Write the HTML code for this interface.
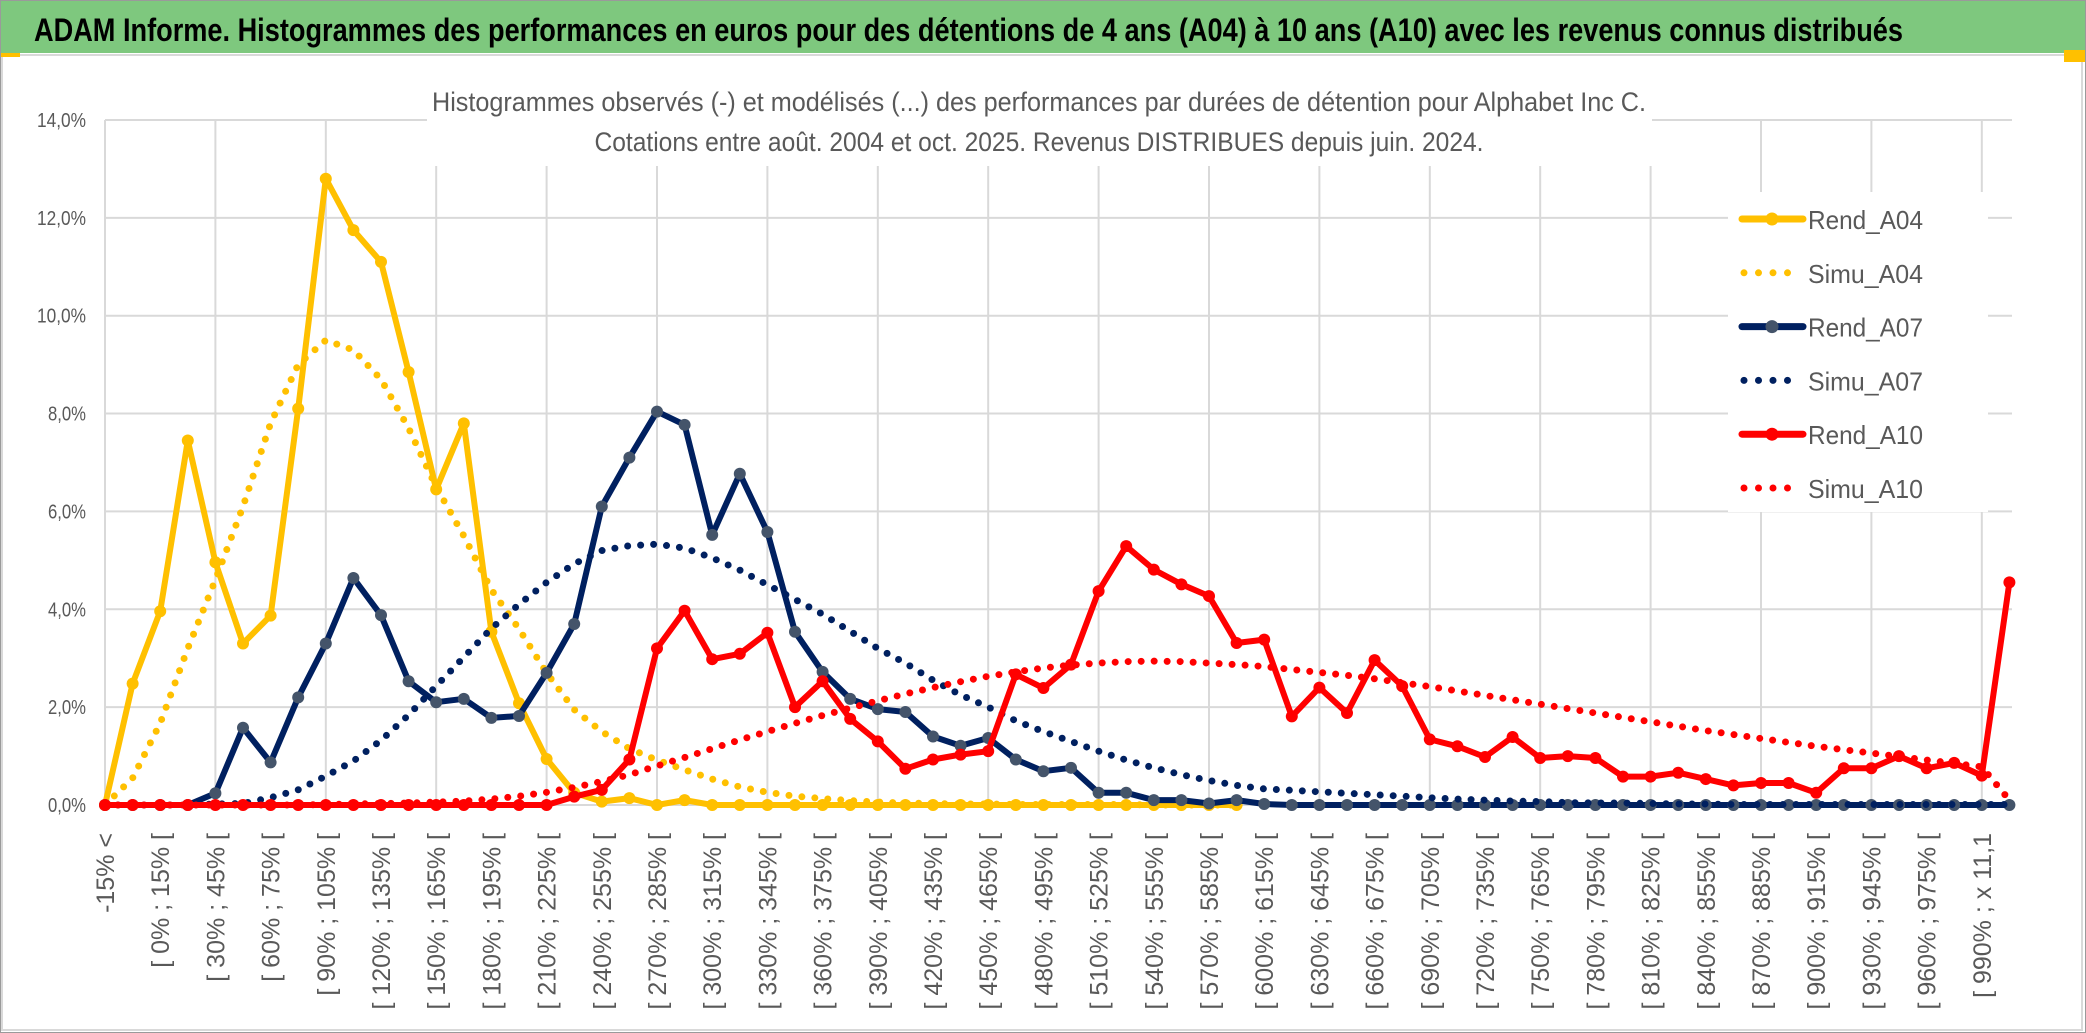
<!DOCTYPE html>
<html><head><meta charset="utf-8"><style>
html,body{margin:0;padding:0;background:#fff;}
svg{display:block;}
text{font-family:"Liberation Sans Narrow","Liberation Sans",sans-serif;}
</style></head><body>
<svg id="chart" xmlns="http://www.w3.org/2000/svg" width="2086" height="1033" viewBox="0 0 2086 1033">
<rect x="0" y="0" width="2086" height="1033" fill="#fff"/>
<rect x="0.5" y="0.5" width="2085" height="1032" fill="none" stroke="#9a9a9a"/>
<rect x="1" y="1" width="2084" height="52" fill="#7EC87E"/>
<text x="34" y="41" font-size="32" font-weight="bold" fill="#000" textLength="1869" lengthAdjust="spacingAndGlyphs">ADAM Informe. Histogrammes des performances en euros pour des détentions de 4 ans (A04) à 10 ans (A10) avec les revenus connus distribués</text>
<rect x="2" y="55" width="2080" height="975" fill="none" stroke="#d9d9d9" stroke-width="2"/>
<rect x="1" y="53" width="19" height="4" fill="#FFC000"/>
<rect x="2064" y="50" width="21" height="12" fill="#FFC000"/>
<g id="grid"></g>
<rect x="427" y="80" width="1225" height="86" fill="#fff"/>
<text x="1039" y="111" font-size="27" fill="#595959" text-anchor="middle" textLength="1214" lengthAdjust="spacingAndGlyphs">Histogrammes observés (-) et modélisés (...) des performances par durées de détention pour Alphabet Inc C.</text>
<text x="1039" y="151" font-size="27" fill="#595959" text-anchor="middle" textLength="889" lengthAdjust="spacingAndGlyphs">Cotations entre août. 2004 et oct. 2025. Revenus DISTRIBUES depuis juin. 2024.</text>
<g id="ylabels"></g>
<g id="xlabels"></g>
<g id="series"></g>
<g id="legend"></g>
</svg>
<script>
const yTicks = [0, 2, 4, 6, 8, 10, 12, 14];
const rendA04 = [0,2.48,3.96,7.45,4.96,3.3,3.87,8.1,12.8,11.75,11.1,8.85,6.45,7.8,3.54,2.08,0.94,0.25,0.07,0.14,0,0.1,0,0,0,0,0,0,0,0,0,0,0,0,0,0,0,0,0,0,0,0];
const simuA04 = [0,0.55,1.67,3.2,4.6,6.1,7.8,9.0,9.5,9.3,8.7,7.7,6.5,5.5,4.4,3.6,2.7,1.95,1.5,1.15,0.92,0.72,0.53,0.37,0.26,0.18,0.13,0.09,0.06,0.04,0.03,0.02,0.02,0.01,0.01,0.01,0.01,0.01,0,0,0,0];
const rendA07 = [0,0,0,0,0.24,1.58,0.87,2.2,3.3,4.64,3.88,2.53,2.1,2.17,1.78,1.82,2.7,3.7,6.1,7.1,8.04,7.77,5.52,6.77,5.58,3.54,2.72,2.17,1.96,1.9,1.4,1.21,1.37,0.93,0.69,0.76,0.25,0.25,0.1,0.1,0.03,0.1,0.02,0,0,0,0,0,0,0,0,0,0,0,0,0,0,0,0,0,0,0,0,0,0,0,0,0,0,0];
const simuA07 = [0,0,0,0,0.02,0.03,0.15,0.31,0.59,0.9,1.32,1.84,2.43,3.02,3.61,4.1,4.55,4.93,5.2,5.3,5.33,5.25,5.05,4.8,4.5,4.2,3.9,3.55,3.2,2.9,2.55,2.25,2.0,1.72,1.5,1.3,1.1,0.92,0.76,0.62,0.5,0.4,0.33,0.3,0.27,0.24,0.21,0.18,0.15,0.12,0.1,0.08,0.07,0.05,0.04,0.04,0.03,0.02,0.02,0.01,0.01,0.01,0.01,0.01,0.01,0.01,0.01,0.01,0.01,0.01];
const rendA10 = [0,0,0,0,0,0,0,0,0,0,0,0,0,0,0,0,0,0.17,0.31,0.93,3.2,3.97,2.98,3.09,3.52,2.0,2.53,1.76,1.3,0.74,0.93,1.03,1.1,2.67,2.39,2.87,4.37,5.29,4.81,4.51,4.27,3.31,3.38,1.81,2.4,1.88,2.96,2.43,1.34,1.2,0.98,1.39,0.96,1.0,0.96,0.58,0.58,0.66,0.53,0.4,0.45,0.45,0.25,0.75,0.75,1.0,0.75,0.86,0.6,4.55];
const simuA10 = [0,0,0,0,0,0,0,0,0.01,0.02,0.03,0.04,0.06,0.08,0.12,0.18,0.26,0.36,0.48,0.62,0.8,0.97,1.15,1.33,1.5,1.67,1.83,1.98,2.13,2.27,2.4,2.52,2.63,2.72,2.8,2.86,2.9,2.93,2.94,2.93,2.9,2.87,2.83,2.77,2.71,2.65,2.58,2.5,2.42,2.33,2.24,2.15,2.06,1.97,1.88,1.79,1.7,1.61,1.52,1.44,1.36,1.28,1.2,1.13,1.06,0.99,0.92,0.85,0.78,0.1];
const categoryLabels = ["-15% <","","[ 0% ; 15% [","","[ 30% ; 45% [","","[ 60% ; 75% [","","[ 90% ; 105% [","","[ 120% ; 135% [","","[ 150% ; 165% [","","[ 180% ; 195% [","","[ 210% ; 225% [","","[ 240% ; 255% [","","[ 270% ; 285% [","","[ 300% ; 315% [","","[ 330% ; 345% [","","[ 360% ; 375% [","","[ 390% ; 405% [","","[ 420% ; 435% [","","[ 450% ; 465% [","","[ 480% ; 495% [","","[ 510% ; 525% [","","[ 540% ; 555% [","","[ 570% ; 585% [","","[ 600% ; 615% [","","[ 630% ; 645% [","","[ 660% ; 675% [","","[ 690% ; 705% [","","[ 720% ; 735% [","","[ 750% ; 765% [","","[ 780% ; 795% [","","[ 810% ; 825% [","","[ 840% ; 855% [","","[ 870% ; 885% [","","[ 900% ; 915% [","","[ 930% ; 945% [","","[ 960% ; 975% [","","[ 990% ; x 11,1",""];
const seriesNames = ["Rend_A04","Simu_A04","Rend_A07","Simu_A07","Rend_A10","Simu_A10"];

const NS = "http://www.w3.org/2000/svg";
const X0 = 105, DX = 27.6, Y0 = 805, PPU = 48.93, PLOT_R = 2012;
function xs(i){ return X0 + DX*i; }
function ys(v){ return Y0 - PPU*v; }
function mk(tag, attrs, parent){ const e = document.createElementNS(NS, tag); for (const k in attrs) e.setAttribute(k, attrs[k]); parent.appendChild(e); return e; }

const grid = document.getElementById('grid');
yTicks.forEach(t => {
  const l = mk('line', {x1: X0, x2: PLOT_R, y1: ys(t), y2: ys(t), stroke: '#d9d9d9', 'stroke-width': 2}, grid);
  
  
});
for (let i = 0; i < categoryLabels.length; i += 4) {
  const l = mk('line', {x1: xs(i), x2: xs(i), y1: ys(14), y2: Y0, stroke: '#d9d9d9', 'stroke-width': 2}, grid);
  
  
}

const yl = document.getElementById('ylabels');
yTicks.forEach(t => {
  const s = t.toFixed(1).replace('.', ',') + '%';
  const e = mk('text', {x: 86, y: ys(t) + 7, 'font-size': 20, fill: '#595959', 'text-anchor': 'end', textLength: t >= 10 ? 49 : 38, lengthAdjust: 'spacingAndGlyphs'}, yl);
  e.textContent = s;
  
  
});

const xl = document.getElementById('xlabels');
categoryLabels.forEach((c, i) => {
  if (!c) return;
  const x = xs(i) + 9, y = 833;
  const e = mk('text', {x: x, y: y, 'font-size': 25, fill: '#595959', 'text-anchor': 'end', transform: 'rotate(-90 ' + x + ' ' + y + ')', style: 'font-family:"Liberation Sans",sans-serif'}, xl);
  e.textContent = c;
  
  
});

const sg = document.getElementById('series');
function pts(arr){ return arr.map((v, i) => xs(i).toFixed(1) + ',' + ys(v).toFixed(1)).join(' '); }
function solid(arr, color, mcolor, name){
  const p = mk('polyline', {points: pts(arr), fill: 'none', stroke: color, 'stroke-width': 6, 'stroke-linejoin': 'round'}, sg);
  
  
  arr.forEach((v, i) => {
    const c = mk('circle', {cx: xs(i), cy: ys(v), r: 6, fill: mcolor}, sg);
    
    
  });
}
function dotted(arr, color, name){
  const p = mk('polyline', {points: pts(arr), fill: 'none', stroke: color, 'stroke-width': 7, 'stroke-linecap': 'round', 'stroke-dasharray': '0 13'}, sg);
  
  
}
solid(rendA04, '#FFC000', '#FFC000', 'rend-a04');
dotted(simuA04, '#FFC000', 'simu-a04');
solid(rendA07, '#002060', '#44546A', 'rend-a07');
dotted(simuA07, '#002060', 'simu-a07');
solid(rendA10, '#FF0000', '#FF0000', 'rend-a10');
dotted(simuA10, '#FF0000', 'simu-a10');

const lg = document.getElementById('legend');
const lbg = mk('rect', {x: 1728, y: 192, width: 260, height: 320, fill: '#fff'}, lg);


const lstyle = [['#FFC000','#FFC000',false],['#FFC000',null,true],['#002060','#44546A',false],['#002060',null,true],['#FF0000','#FF0000',false],['#FF0000',null,true]];
seriesNames.forEach((n, k) => {
  const y = 219 + k*53.8;
  const [col, mc, dot] = lstyle[k];
  if (dot) {
    const l = mk('line', {x1: 1744, x2: 1802, y1: y, y2: y, stroke: col, 'stroke-width': 7, 'stroke-linecap': 'round', 'stroke-dasharray': '0 14.5'}, lg);
    
    
  } else {
    const l = mk('line', {x1: 1742, x2: 1803, y1: y, y2: y, stroke: col, 'stroke-width': 7, 'stroke-linecap': 'round'}, lg);
    
    
    const c = mk('circle', {cx: 1772, cy: y, r: 6.5, fill: mc}, lg);
    
    
  }
  const t = mk('text', {x: 1808, y: y + 10, 'font-size': 26, fill: '#595959', textLength: 115, lengthAdjust: 'spacingAndGlyphs'}, lg);
  t.textContent = n;
  
  
});
</script>
</body></html>
